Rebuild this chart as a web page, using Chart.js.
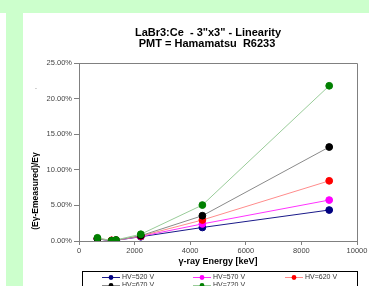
<!DOCTYPE html>
<html lang="en">
<head>
    <meta charset="UTF-8">
    <title>LaBr3:Ce Linearity</title>
    <script src="https://cdn.jsdelivr.net/npm/chart.js"></script>
    <style>
        body {
            margin: 0;
            padding: 0;
            width: 369px;
            height: 286px;
            overflow: hidden;
            background-color: #ccffcc;
            position: relative;
        }
        .strip {
            position: absolute;
            left: 0;
            top: 13px;
            width: 6px;
            height: 273px;
            background: #fff;
        }
        .panel {
            position: absolute;
            left: 23px;
            top: 13px;
            width: 346px;
            height: 273px;
            background: #fff;
        }
        #chart {
            position: absolute;
            left: 0;
            top: 0;
        }
    </style>
</head>
<body>
    <div class="strip"></div>
    <div class="panel"></div>
    <canvas id="chart" width="369" height="286"></canvas>

    <script>
        // gamma-ray energies (keV)
        const energies = [662, 1173, 1332, 2223, 4438, 9000];

        // (Eγ - Emeasured)/Eγ in %
        const hv520 = [0.30, 0.05, 0.10, 0.60, 1.90, 4.35];
        const hv570 = [0.30, 0.05, 0.10, 0.65, 2.40, 5.75];
        const hv620 = [0.35, 0.10, 0.12, 0.70, 2.95, 8.45];
        const hv670 = [0.30, 0.00, 0.10, 0.75, 3.55, 13.20];
        const hv720 = [0.45, 0.05, 0.15, 0.95, 5.05, 21.80];

        const seriesNames = ['HV=520 V', 'HV=570 V', 'HV=620 V', 'HV=670 V', 'HV=720 V'];
        const seriesValues = [hv520, hv570, hv620, hv670, hv720];
        const markerColors = ['#000080', '#ff00ff', '#ff0000', '#000000', '#008000'];
        const lineColors = ['#1a1a8a', '#ff33ff', '#ff8c8c', '#8a8a8a', '#99cc99'];

        const yTicks = [0, 5, 10, 15, 20, 25];
        const xTicks = [0, 2000, 4000, 6000, 8000, 10000];

        const titleLines = ['LaBr3:Ce  - 3"x3" - Linearity', 'PMT = Hamamatsu  R6233'];
        const yTitle = '(Eγ-Emeasured)/Eγ';

        const datasets = seriesNames.map((name, i) => ({
            label: name,
            data: energies.map((e, j) => ({ x: e, y: seriesValues[i][j] })),
            borderColor: lineColors[i],
            backgroundColor: markerColors[i],
            pointBackgroundColor: markerColors[i],
            pointBorderColor: markerColors[i],
            borderWidth: 1,
            pointRadius: 3.4,
            order: seriesNames.length - i,
            showLine: true
        }));

        // titles, frame, stray dot and the boxed legend
        const extras = {
            id: 'extras',
            afterDraw(chart) {
                const ctx = chart.ctx;
                const a = chart.chartArea;
                ctx.save();
                ctx.strokeStyle = '#808080';
                ctx.lineWidth = 1;
                ctx.beginPath();
                ctx.moveTo(a.left, a.top + 0.5);
                ctx.lineTo(a.right + 0.5, a.top + 0.5);
                ctx.lineTo(a.right + 0.5, a.bottom);
                ctx.stroke();

                // chart title
                ctx.fillStyle = '#000';
                ctx.textAlign = 'center';
                ctx.textBaseline = 'middle';
                ctx.font = 'bold 11px "Liberation Sans"';
                ctx.fillText(titleLines[0], 208, 33);
                ctx.fillText(titleLines[1], 207, 44);

                // y axis title
                ctx.save();
                ctx.translate(36, 191);
                ctx.rotate(-Math.PI / 2);
                ctx.font = 'bold 8.5px "Liberation Sans"';
                ctx.fillText(yTitle, 0, 0);
                ctx.restore();

                ctx.fillStyle = '#555';
                ctx.textAlign = 'left';
                ctx.textBaseline = 'alphabetic';
                ctx.font = '7px "Liberation Sans"';
                ctx.fillText('.', 35, 89);

                // legend
                ctx.fillStyle = '#fff';
                ctx.fillRect(82, 271, 275, 20);
                ctx.strokeStyle = '#000';
                ctx.strokeRect(82.5, 271.5, 275, 20);
                const cols = [102, 193, 285];
                const rows = [277, 285];
                ctx.font = '7px "Liberation Sans"';
                ctx.textBaseline = 'middle';
                seriesNames.forEach((name, i) => {
                    const x = cols[i % 3];
                    const y = rows[Math.floor(i / 3)];
                    ctx.strokeStyle = lineColors[i];
                    ctx.beginPath();
                    ctx.moveTo(x, y + 0.5);
                    ctx.lineTo(x + 18, y + 0.5);
                    ctx.stroke();
                    ctx.fillStyle = markerColors[i];
                    ctx.beginPath();
                    ctx.arc(x + 9, y + 0.5, 2.4, 0, Math.PI * 2);
                    ctx.fill();
                    ctx.fillStyle = '#333';
                    ctx.fillText(name, x + 20, y + 0.5);
                });
                ctx.restore();
            }
        };

        new Chart(document.getElementById('chart'), {
            type: 'scatter',
            data: { datasets },
            plugins: [extras],
            options: {
                responsive: false,
                animation: false,
                layout: { padding: { left: 23, right: 12, top: 63, bottom: 0 } },
                plugins: {
                    legend: { display: false },
                    tooltip: { enabled: false },
                    title: { display: false }
                },
                scales: {
                    x: {
                        type: 'linear',
                        min: 0,
                        max: 10000,
                        afterBuildTicks: s => { s.ticks = xTicks.map(v => ({ value: v })); },
                        afterFit: s => { s.height = 45; },
                        ticks: {
                            color: '#444',
                            font: { family: 'Liberation Sans', size: 7.5 },
                            padding: 1,
                            maxRotation: 0,
                            callback: v => String(v)
                        },
                        grid: { display: true, drawOnChartArea: false, drawTicks: true, tickLength: 4, color: '#808080' },
                        border: { color: '#808080' },
                        title: {
                            display: true,
                            text: 'γ-ray Energy [keV]',
                            color: '#000',
                            font: { family: 'Liberation Sans', size: 9, weight: 'bold', lineHeight: 1.2 },
                            padding: { top: 19, bottom: 19 }
                        }
                    },
                    y: {
                        min: 0,
                        max: 25,
                        afterBuildTicks: s => { s.ticks = yTicks.map(v => ({ value: v })); },
                        afterFit: s => { s.width = 56; },
                        ticks: {
                            color: '#444',
                            font: { family: 'Liberation Sans', size: 7.5 },
                            padding: 2,
                            callback: v => v.toFixed(2) + '%'
                        },
                        grid: { display: true, drawOnChartArea: false, drawTicks: true, tickLength: 5, color: '#808080' },
                        border: { color: '#808080' }
                    }
                }
            }
        });
    </script>
</body>
</html>
